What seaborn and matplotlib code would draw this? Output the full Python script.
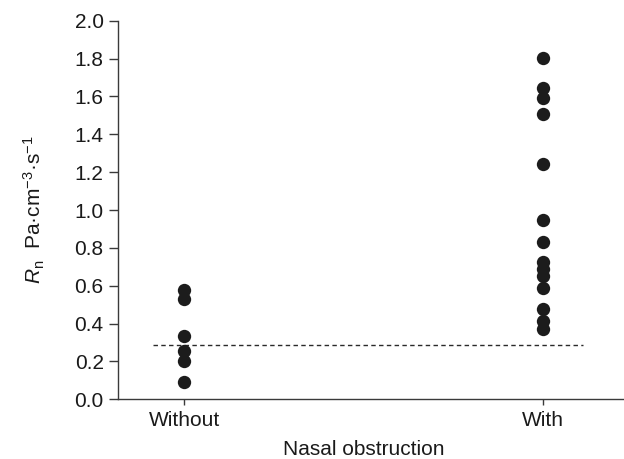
import matplotlib
matplotlib.use("Agg")
import matplotlib.pyplot as plt
import seaborn as sns
import pandas as pd

# Data
categories = ["Without", "With"]
without_values = [0.575, 0.532, 0.336, 0.257, 0.204, 0.093]
with_values = [1.803, 1.645, 1.593, 1.505, 1.242, 0.947, 0.829, 0.724, 0.690,
               0.649, 0.589, 0.479, 0.415, 0.373]
threshold = 0.288
y_ticks = [0.0, 0.2, 0.4, 0.6, 0.8, 1.0, 1.2, 1.4, 1.6, 1.8, 2.0]
x_label = "Nasal obstruction"
y_label = r"$R_\mathrm{n}$  Pa·cm$^{-3}$·s$^{-1}$"

df = pd.DataFrame({
    "group": [categories[0]] * len(without_values) + [categories[1]] * len(with_values),
    "value": without_values + with_values,
})

sns.set_theme(style="ticks")
plt.rcParams["font.family"] = ["Liberation Sans", "DejaVu Sans"]
plt.rcParams["mathtext.fontset"] = "custom"
plt.rcParams["mathtext.rm"] = "Liberation Sans"
plt.rcParams["mathtext.it"] = "Liberation Sans:italic"

spine_color = "#3a3a3a"
fig = plt.figure(figsize=(6.24, 4.59), dpi=100)
ax = fig.add_axes([118.3 / 624, 1 - 399.3 / 459, (624 - 118.3) / 624, (399.3 - 20.7) / 459])

sns.stripplot(data=df, x="group", y="value", order=categories, jitter=False,
              color="#1c1c1c", size=9.6, linewidth=0, ax=ax)

ax.hlines(threshold, -0.087, 1.11, colors="#2a2a2a", linestyles=(0, (3.2, 2.4)), linewidth=1.0)

ax.set_xlim(-0.1836, 1.225)
ax.set_ylim(0, 2.0)
ax.set_yticks(y_ticks)
ax.set_yticklabels([f"{t:.1f}" for t in y_ticks])

for s in ["top", "right"]:
    ax.spines[s].set_visible(False)
for s in ["left", "bottom"]:
    ax.spines[s].set_color(spine_color)
    ax.spines[s].set_linewidth(1.0)

ax.tick_params(axis="y", direction="out", length=6.5, width=1.0, color=spine_color,
               labelsize=15, labelcolor="#1a1a1a", pad=4)
ax.tick_params(axis="x", direction="out", length=4.5, width=1.0, color=spine_color,
               labelsize=15, labelcolor="#1a1a1a", pad=4)

ax.set_xlabel(x_label, fontsize=15, color="#1a1a1a")
ax.xaxis.set_label_coords((363.6 - 118.3) / (624 - 118.3), -0.108)
ax.set_ylabel(y_label, fontsize=15, color="#1a1a1a")
ax.yaxis.set_label_coords(-(118.3 - 47) / (624 - 118.3), 0.5)

fig.savefig("out.png", dpi=100)
